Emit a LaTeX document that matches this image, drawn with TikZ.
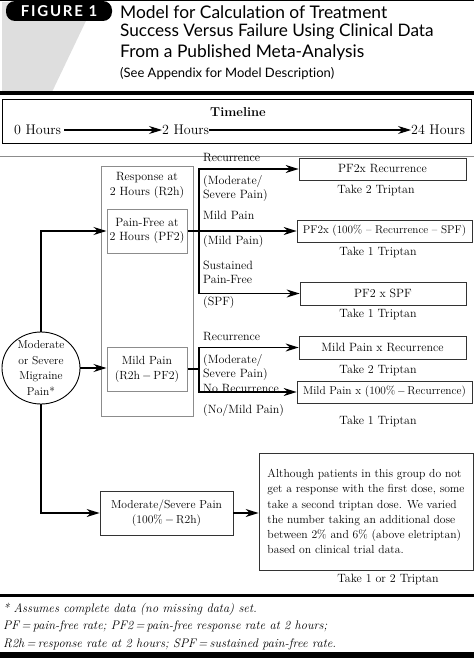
\documentclass[tikz,border=0pt]{standalone}
\usepackage{fontspec}
\newfontfamily\titlefont[Ligatures=NoCommon]{Lato}
\usetikzlibrary{shapes.geometric,arrows.meta}
\begin{document}
\begin{tikzpicture}[x=1pt,y=-1pt,
  every node/.style={font=\fontsize{12}{14.5}\selectfont, inner sep=0pt},
  arr/.style={line width=1.3pt, -{Stealth[length=13pt,width=8pt]}},
  conn/.style={line width=1.3pt},
  resbox/.style={draw=black!80, line width=0.7pt, minimum height=22pt, align=center},
  greybox/.style={draw=black!45, line width=1pt},
  lbl/.style={anchor=west, align=left, font=\fontsize{12}{14}\selectfont},
  take/.style={font=\fontsize{12}{14}\selectfont},
  foot/.style={anchor=west, font=\fontsize{12.4}{14}\selectfont\itshape}]
\useasboundingbox (0,0) rectangle (474,658);
% header
\fill[black!13] (2,2) -- (95,2) -- (52,92) -- (2,92) -- cycle;
\fill[black] (0,0) rectangle (474,1.5);
\fill[black] (0,91) rectangle (474,95);
\node[fill=black, rounded corners=9pt, minimum width=106pt, minimum height=20pt,
      text=white, font=\titlefont\bfseries\fontsize{15}{15}\selectfont] (fig) at (59,11)
      {\addfontfeatures{LetterSpace=12}FIGURE 1};
\node[anchor=west, font=\titlefont\fontsize{17.4}{18}\selectfont] (t1) at (120,12) {Model for Calculation of Treatment};
\node[anchor=west, font=\titlefont\fontsize{17.2}{18}\selectfont] (t2) at (120,32) {Success Versus Failure Using Clinical Data};
\node[anchor=west, font=\titlefont\fontsize{17.4}{18}\selectfont] (t3) at (120,53) {From a Published Meta-Analysis};
\node[anchor=west, font=\titlefont\fontsize{13}{14}\selectfont] (t4) at (120,74) {(See Appendix for Model Description)};
% timeline
\draw[line width=1pt] (2,100) rectangle (471,143);
\node[font=\bfseries\fontsize{12.9}{14}\selectfont] (tl) at (238,112) {Timeline};
\node[anchor=west, font=\fontsize{14}{16}\selectfont] (h0) at (14,130) {0 Hours};
\node[anchor=west, font=\fontsize{14}{16}\selectfont] (h2) at (162,130) {2 Hours};
\node[anchor=west, font=\fontsize{14}{16}\selectfont] (h24) at (411,130) {24 Hours};
\draw[arr, line width=1pt] ([xshift=3pt]h0.east) -- (h2.west);
\draw[arr, line width=1pt] (h2.east) -- (h24.west);
% frame top line
\draw[black!45, line width=0.8pt] (0,156) -- (474,156);
% response box
\draw[greybox] (101,166) rectangle (193,416);
\node[align=center] (resp) at (147,185.5) {Response at\\2 Hours (R2h)};
\node[greybox, minimum width=80pt, minimum height=44pt, align=center] (pf2) at (147,231) {Pain-Free at\\2 Hours (PF2)};
\node[greybox, minimum width=80pt, minimum height=44pt, align=center, font=\fontsize{11.8}{15}\selectfont] (mild) at (147,369) {Mild Pain\\(R2h$\,-\,$PF2)};
% ellipse
\node[ellipse, draw, line width=0.9pt, minimum width=78pt, minimum height=72pt] (ell) at (41,368) {};
\node[align=center, font=\fontsize{11.5}{15.5}\selectfont] (elltext) at (ell.center) {Moderate\\or Severe\\Migraine\\Pain*};
\draw[arr] (ell.north) |- (pf2.west);
\draw[arr] (ell.east) -- (ell.east -| mild.west);
% moderate/severe pain box
\node[draw=black!80, line width=0.8pt, minimum width=133pt, minimum height=44pt, align=center,
      font=\fontsize{11.6}{15}\selectfont] (msp) at (166.5,513)
  {Moderate/Severe Pain\\(100\%$\,-\,$R2h)};
\draw[arr] (ell.south) |- (msp.west);
\node[draw=black!80, line width=0.8pt, minimum width=214pt, minimum height=117pt, align=left,
      font=\fontsize{11.65}{15.2}\selectfont] (big) at (366,511.5)
  {Although patients in this group do not\\get a response with the first dose, some\\take a second triptan dose. We varied\\the number taking an additional dose\\between 2\% and 6\% (above eletriptan)\\based on clinical trial data.};
\draw[arr] (msp.east) -- (msp.east -| big.west);
\node[take] (tk6) at (388,579) {Take 1 or 2 Triptan};
% result boxes
\node[resbox, minimum width=167pt] (r1) at (382.5,169) {PF2x Recurrence};
\node[resbox, minimum width=175pt, font=\fontsize{11.2}{13}\selectfont] (r2) at (384.5,231) {PF2x (100\% -- Recurrence -- SPF)};
\node[resbox, minimum width=166pt, minimum height=23pt] (r3) at (383,293.5) {PF2 x SPF};
\node[resbox, minimum width=167pt, minimum height=23pt] (r4) at (382.5,347.5) {Mild Pain x Recurrence};
\node[resbox, minimum width=175pt, font=\fontsize{11.4}{13}\selectfont] (r5) at (384.5,392) {Mild Pain x (100\%$\,-\,$Recurrence)};
\node[take] (tk1) at (376,190) {Take 2 Triptan};
\node[take] (tk2) at (378,252) {Take 1 Triptan};
\node[take] (tk3) at (378,314) {Take 1 Triptan};
\node[take] (tk4) at (378,370) {Take 2 Triptan};
\node[take] (tk5) at (378,421) {Take 1 Triptan};
% PF2 bus
\coordinate (b1t) at (199,169);
\coordinate (b1b) at (199,293.5);
\draw[conn] (b1t) -- (b1b);
\draw[arr] ([xshift=-0.65pt]b1t) -- (r1.west);
\draw[arr] (pf2.east) -- (pf2.east -| r2.west);
\draw[arr] ([xshift=-0.65pt]b1b) -- (r3.west);
% Mild bus
\coordinate (b2t) at (199,347.5);
\coordinate (b2b) at (199,392);
\draw[conn] (b2t) -- (b2b);
\draw[conn] (mild.east) -- (mild.east -| b2t);
\draw[arr] ([xshift=-0.65pt]b2t) -- (r4.west);
\draw[arr] ([xshift=-0.65pt]b2b) -- (r5.west);
% branch labels
\node[lbl] (l1) at (203,158) {Recurrence};
\node[lbl] (l2) at (203,189) {(Moderate/\\Severe Pain)};
\node[lbl] (l3) at (203,215) {Mild Pain};
\node[lbl] (l4) at (203,242) {(Mild Pain)};
\node[lbl] (l5) at (203,272.5) {Sustained\\Pain-Free};
\node[lbl] (l6) at (203,303) {(SPF)};
\node[lbl] (l7) at (203,337) {Recurrence};
\node[lbl] (l8) at (203,368) {(Moderate/\\Severe Pain)};
\node[lbl] (l9) at (203,388.5) {No Recurrence};
\node[lbl] (l10) at (203,411) {(No/Mild Pain)};
% footnote
\fill[black] (0,593.5) rectangle (474,597);
\node[foot] (f1) at (3,609) {* Assumes complete data (no missing data) set.};
\node[foot] (f2) at (3,626) {PF\,=\,pain-free rate; PF2\,=\,pain-free response rate at 2 hours;};
\node[foot] (f3) at (3,644) {R2h\,=\,response rate at 2 hours; SPF\,=\,sustained pain-free rate.};
\fill[black] (0,652) rectangle (474,658);
\end{tikzpicture}
\end{document}
